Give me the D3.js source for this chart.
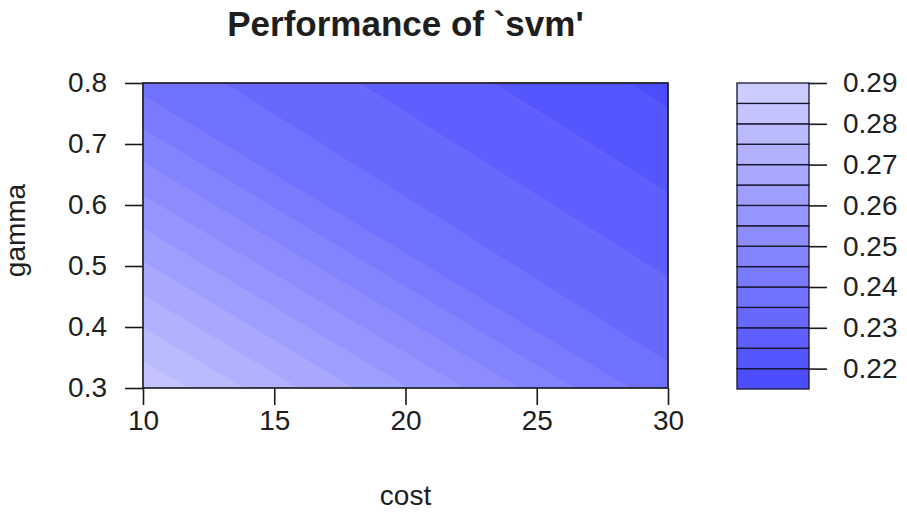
<!DOCTYPE html>
<html>
<head>
<meta charset="utf-8">
<script src="https://cdn.jsdelivr.net/npm/d3@7"></script>
<style>
  html, body { margin: 0; padding: 0; background: #ffffff; }
  svg { display: block; }
  text { font-family: "Liberation Sans", Arial, sans-serif; fill: #1e1e1e; }
</style>
</head>
<body>
<svg id="chart" width="907" height="518"></svg>
<script>
// Tuning grid: cost values (columns) and gamma values (rows)
const costs = [10, 30];
const gammas = [0.3, 0.8];
// Cross-validated error for each (gamma row, cost column)
const errorRow_g030 = [0.284, 0.2365];
const errorRow_g080 = [0.238, 0.2185];
const errors = [errorRow_g030, errorRow_g080];

// Contour levels (band edges) and tick labels
const levels = [0.215, 0.22, 0.225, 0.23, 0.235, 0.24, 0.245, 0.25,
                0.255, 0.26, 0.265, 0.27, 0.275, 0.28, 0.285, 0.29];
const keyTicks = [0.22, 0.23, 0.24, 0.25, 0.26, 0.27, 0.28, 0.29];
const costTicks = [10, 15, 20, 25, 30];
const gammaTicks = [0.3, 0.4, 0.5, 0.6, 0.7, 0.8];

const titleText = "Performance of `svm'";
const xTitle = "cost";
const yTitle = "gamma";

const svg = d3.select("#chart");

// Scales
const x = d3.scaleLinear().domain([10, 30]).range([143, 668]);
const y = d3.scaleLinear().domain([0.3, 0.8]).range([388, 83]);
const yKey = d3.scaleLinear().domain([levels[0], levels[levels.length - 1]]).range([389, 83]);

// White-to-blue HSV palette: low error = saturated blue, high error = pale
const nBands = levels.length - 1;
const bandColor = d3.scaleOrdinal()
  .domain(d3.range(nBands))
  .range(d3.range(nBands).map(k => {
    const s = 0.7 - 0.5 * k / (nBands - 1);
    const c = Math.round(255 * (1 - s));
    return d3.rgb(c, c, 255).formatHex();
  }));

// Clip a polygon (vertices carry a value) to one side of a level,
// interpolating linearly along the edges.
function clipLevel(poly, lev, keepAbove) {
  const out = [];
  const n = poly.length;
  for (let i = 0; i < n; i++) {
    const a = poly[i], b = poly[(i + 1) % n];
    const ina = keepAbove ? a.v >= lev : a.v <= lev;
    const inb = keepAbove ? b.v >= lev : b.v <= lev;
    if (ina) out.push(a);
    if (ina !== inb) {
      const t = (lev - a.v) / (b.v - a.v);
      out.push({ c: a.c + t * (b.c - a.c), g: a.g + t * (b.g - a.g), v: lev });
    }
  }
  return out;
}

const line = d3.line().x(d => x(d.c)).y(d => y(d.g)).curve(d3.curveLinearClosed);
const fillLayer = svg.append("g");

for (let j = 0; j < gammas.length - 1; j++) {
  for (let i = 0; i < costs.length - 1; i++) {
    const cell = [
      { c: costs[i],     g: gammas[j],     v: errors[j][i] },
      { c: costs[i + 1], g: gammas[j],     v: errors[j][i + 1] },
      { c: costs[i + 1], g: gammas[j + 1], v: errors[j + 1][i + 1] },
      { c: costs[i],     g: gammas[j + 1], v: errors[j + 1][i] }
    ];
    for (let k = 0; k < nBands; k++) {
      let p = clipLevel(cell, levels[k], true);
      if (p.length < 3) continue;
      p = clipLevel(p, levels[k + 1], false);
      if (p.length < 3) continue;
      fillLayer.append("path")
        .attr("d", line(p))
        .attr("fill", bandColor(k))
        .attr("stroke", bandColor(k))
        .attr("stroke-width", 0.8);
    }
  }
}

// Plot frame
svg.append("rect")
  .attr("x", x(10)).attr("y", y(0.8))
  .attr("width", x(30) - x(10)).attr("height", y(0.3) - y(0.8))
  .attr("fill", "none").attr("stroke", "#1a1a1a").attr("stroke-width", 1.6);

function styleAxis(g) {
  g.select(".domain").remove();
  g.selectAll(".tick line").attr("stroke", "#1a1a1a").attr("stroke-width", 1.6);
  g.selectAll(".tick text")
    .attr("font-size", 28)
    .attr("font-family", "'Liberation Sans', Arial, sans-serif")
    .attr("fill", "#1e1e1e");
}

svg.append("g")
  .attr("transform", `translate(0,${y(0.3)})`)
  .call(d3.axisBottom(x).tickValues(costTicks).tickFormat(d3.format("d"))
    .tickSize(17).tickPadding(5))
  .call(styleAxis);

svg.append("g")
  .attr("transform", `translate(${x(10)},0)`)
  .call(d3.axisLeft(y).tickValues(gammaTicks).tickFormat(d3.format(".1f"))
    .tickSize(18).tickPadding(18))
  .call(styleAxis);

// Colour key
const keyX0 = 737, keyX1 = 809;
svg.append("g").selectAll("rect")
  .data(d3.range(nBands))
  .join("rect")
  .attr("x", keyX0)
  .attr("width", keyX1 - keyX0)
  .attr("y", k => yKey(levels[k + 1]))
  .attr("height", k => yKey(levels[k]) - yKey(levels[k + 1]))
  .attr("fill", k => bandColor(k))
  .attr("stroke", "#151530")
  .attr("stroke-width", 1.3);

svg.append("g")
  .attr("transform", `translate(${keyX1},0)`)
  .call(d3.axisRight(yKey).tickValues(keyTicks).tickFormat(d3.format(".2f"))
    .tickSize(18).tickPadding(16))
  .call(styleAxis);

// Titles
svg.append("text")
  .attr("x", (x(10) + x(30)) / 2).attr("y", 36)
  .attr("text-anchor", "middle")
  .attr("font-size", 35).attr("font-weight", "bold")
  .attr("fill", "#111")
  .text(titleText);

svg.append("text")
  .attr("x", (x(10) + x(30)) / 2).attr("y", 505)
  .attr("text-anchor", "middle")
  .attr("font-size", 28)
  .text(xTitle);

svg.append("text")
  .attr("transform", `translate(25,${(y(0.3) + y(0.8)) / 2 - 5}) rotate(-90)`)
  .attr("text-anchor", "middle")
  .attr("font-size", 28)
  .text(yTitle);
</script>
</body>
</html>
